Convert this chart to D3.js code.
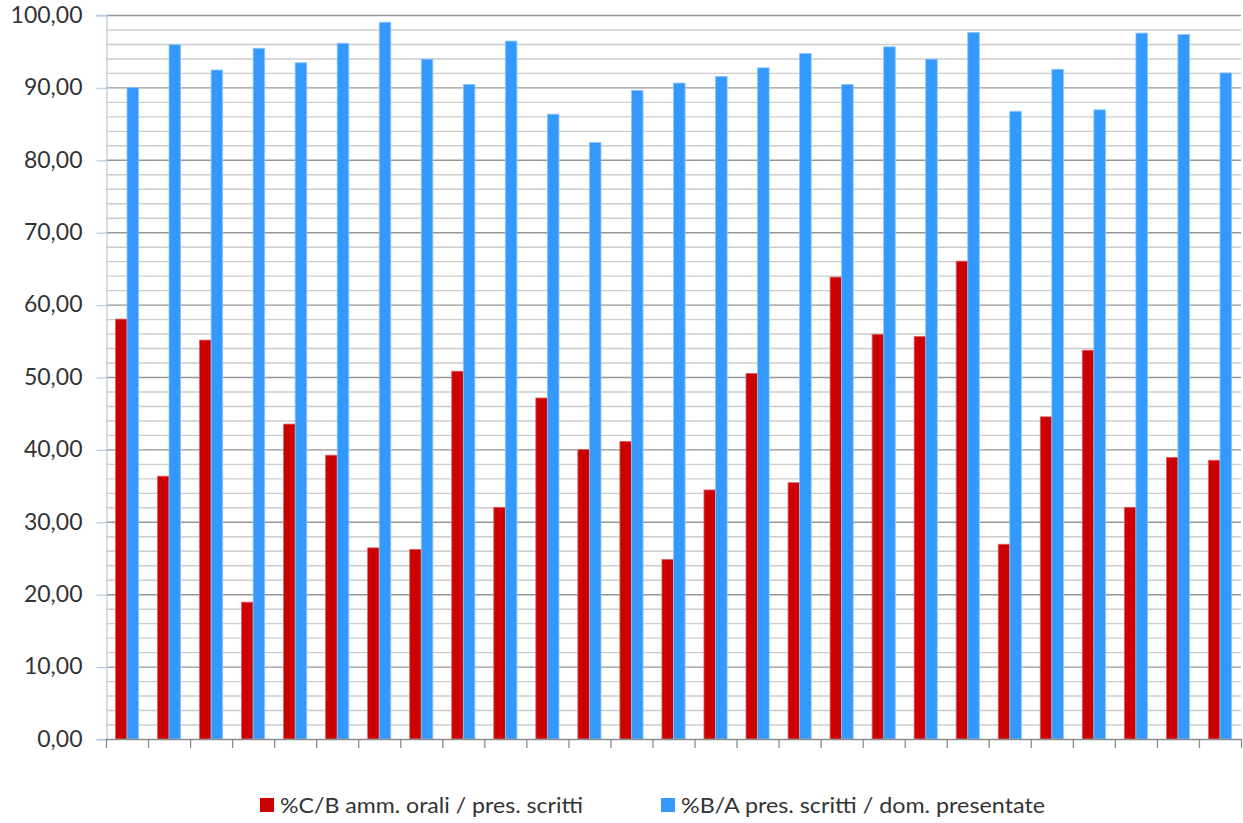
<!DOCTYPE html>
<html><head><meta charset="utf-8">
<script src="https://cdn.jsdelivr.net/npm/d3@7"></script>
<style>body{margin:0;background:#fff}svg{display:block}</style>
</head><body><svg id="c" width="1243" height="823"></svg>
<script>
const categories = ["1","2","3","4","5","6","7","8","9","10","11","12","13","14","15","16","17","18","19","20","21","22","23","24","25","26","27"];
const seriesNames = ["%C/B amm. orali / pres. scritti", "%B/A pres. scritti / dom. presentate"];
const ammOrali = [58.0, 36.3, 55.1, 18.9, 43.5, 39.2, 26.4, 26.2, 50.8, 32.0, 47.1, 40.0, 41.1, 24.8, 34.4, 50.5, 35.4, 63.8, 55.9, 55.6, 66.0, 26.9, 44.5, 53.7, 32.0, 38.9, 38.5];
const presScritti = [90.0, 95.9, 92.4, 95.4, 93.4, 96.1, 99.0, 93.9, 90.4, 96.4, 86.3, 82.4, 89.6, 90.6, 91.5, 92.7, 94.7, 90.4, 95.6, 93.9, 97.6, 86.7, 92.5, 86.9, 97.5, 97.3, 92.0];
const yTicks = [0, 10, 20, 30, 40, 50, 60, 70, 80, 90, 100];
const colors = ["#CC0000", "#3399FF"];
const edgeColors = ["#e06060", "#8cc4ff"];

const svg = d3.select("#c");
const L = 106, R = 1241, T = 15, B = 739;
const y = d3.scaleLinear().domain([0, 100]).range([B, T]);
const x0 = d3.scaleBand().domain(categories).range([L, R]).padding(0);
const x1 = d3.scaleBand().domain([0, 1]).range([x0.bandwidth() * 0.225, x0.bandwidth() * 0.775]).padding(0);
const itIT = d3.formatLocale({decimal: ",", thousands: ".", grouping: [3], currency: ["€", ""]});
const fmt = itIT.format(".2f");

// minor gridlines
svg.append("g").selectAll("line").data(y.ticks(50).filter(v => v % 10 !== 0)).join("line")
  .attr("x1", L).attr("x2", R).attr("y1", d => y(d) + 0.5).attr("y2", d => y(d) + 0.5)
  .attr("stroke", "#cccccc").attr("stroke-width", 1.4);
// major gridlines
svg.append("g").selectAll("line").data(yTicks.filter(v => v > 0)).join("line")
  .attr("x1", L).attr("x2", R).attr("y1", d => y(d) + 0.5).attr("y2", d => y(d) + 0.5)
  .attr("stroke", "#969696").attr("stroke-width", 1.4);

// bars
const series = [ammOrali, presScritti];
const g = svg.append("g");
categories.forEach((c, i) => {
  series.forEach((s, k) => {
    g.append("rect")
      .attr("x", x0(c) + x1(k))
      .attr("y", y(s[i]))
      .attr("width", x1.bandwidth())
      .attr("height", y(0) - y(s[i]))
      .attr("fill", colors[k])
      .attr("stroke", edgeColors[k]).attr("stroke-width", 0.8);
  });
});

// y axis
const yAxis = d3.axisLeft(y).tickValues(yTicks).tickSize(10).tickFormat(fmt).tickPadding(14);
const ya = svg.append("g").attr("transform", `translate(${L + 0.5},0)`).call(yAxis);
ya.select(".domain").attr("stroke", "#b9cde5").attr("stroke-width", 1.3);
ya.selectAll(".tick line").attr("stroke", "#b9cde5").attr("stroke-width", 1.3).attr("transform", "translate(0,0.5)");
ya.selectAll(".tick text").attr("font-family", "Lato, 'Open Sans', sans-serif").attr("font-size", 23).attr("fill", "#333");

// x axis
const xTicksPos = categories.map(c => x0(c)).concat([R]);
svg.append("line").attr("x1", L).attr("x2", R).attr("y1", B + 0.5).attr("y2", B + 0.5).attr("stroke", "#8c8c8c").attr("stroke-width", 1.3);
svg.append("g").selectAll("line").data(xTicksPos).join("line")
  .attr("x1", d => d + 0.5).attr("x2", d => d + 0.5).attr("y1", B).attr("y2", B + 9)
  .attr("stroke", "#8c8c8c").attr("stroke-width", 1.3);

// legend
const legend = [
  {sx: 260, tx: 280, w: 303},
  {sx: 661, tx: 681, w: 364}
];
legend.forEach((l, k) => {
  svg.append("rect").attr("x", l.sx).attr("y", 798).attr("width", 14).attr("height", 14).attr("fill", colors[k]);
  svg.append("text").attr("x", l.tx).attr("y", 813)
    .attr("font-family", "Lato, 'Open Sans', sans-serif").attr("font-size", 22).attr("fill", "#333")
    .attr("textLength", l.w).attr("lengthAdjust", "spacingAndGlyphs")
    .text(seriesNames[k]);
});
</script></body></html>
